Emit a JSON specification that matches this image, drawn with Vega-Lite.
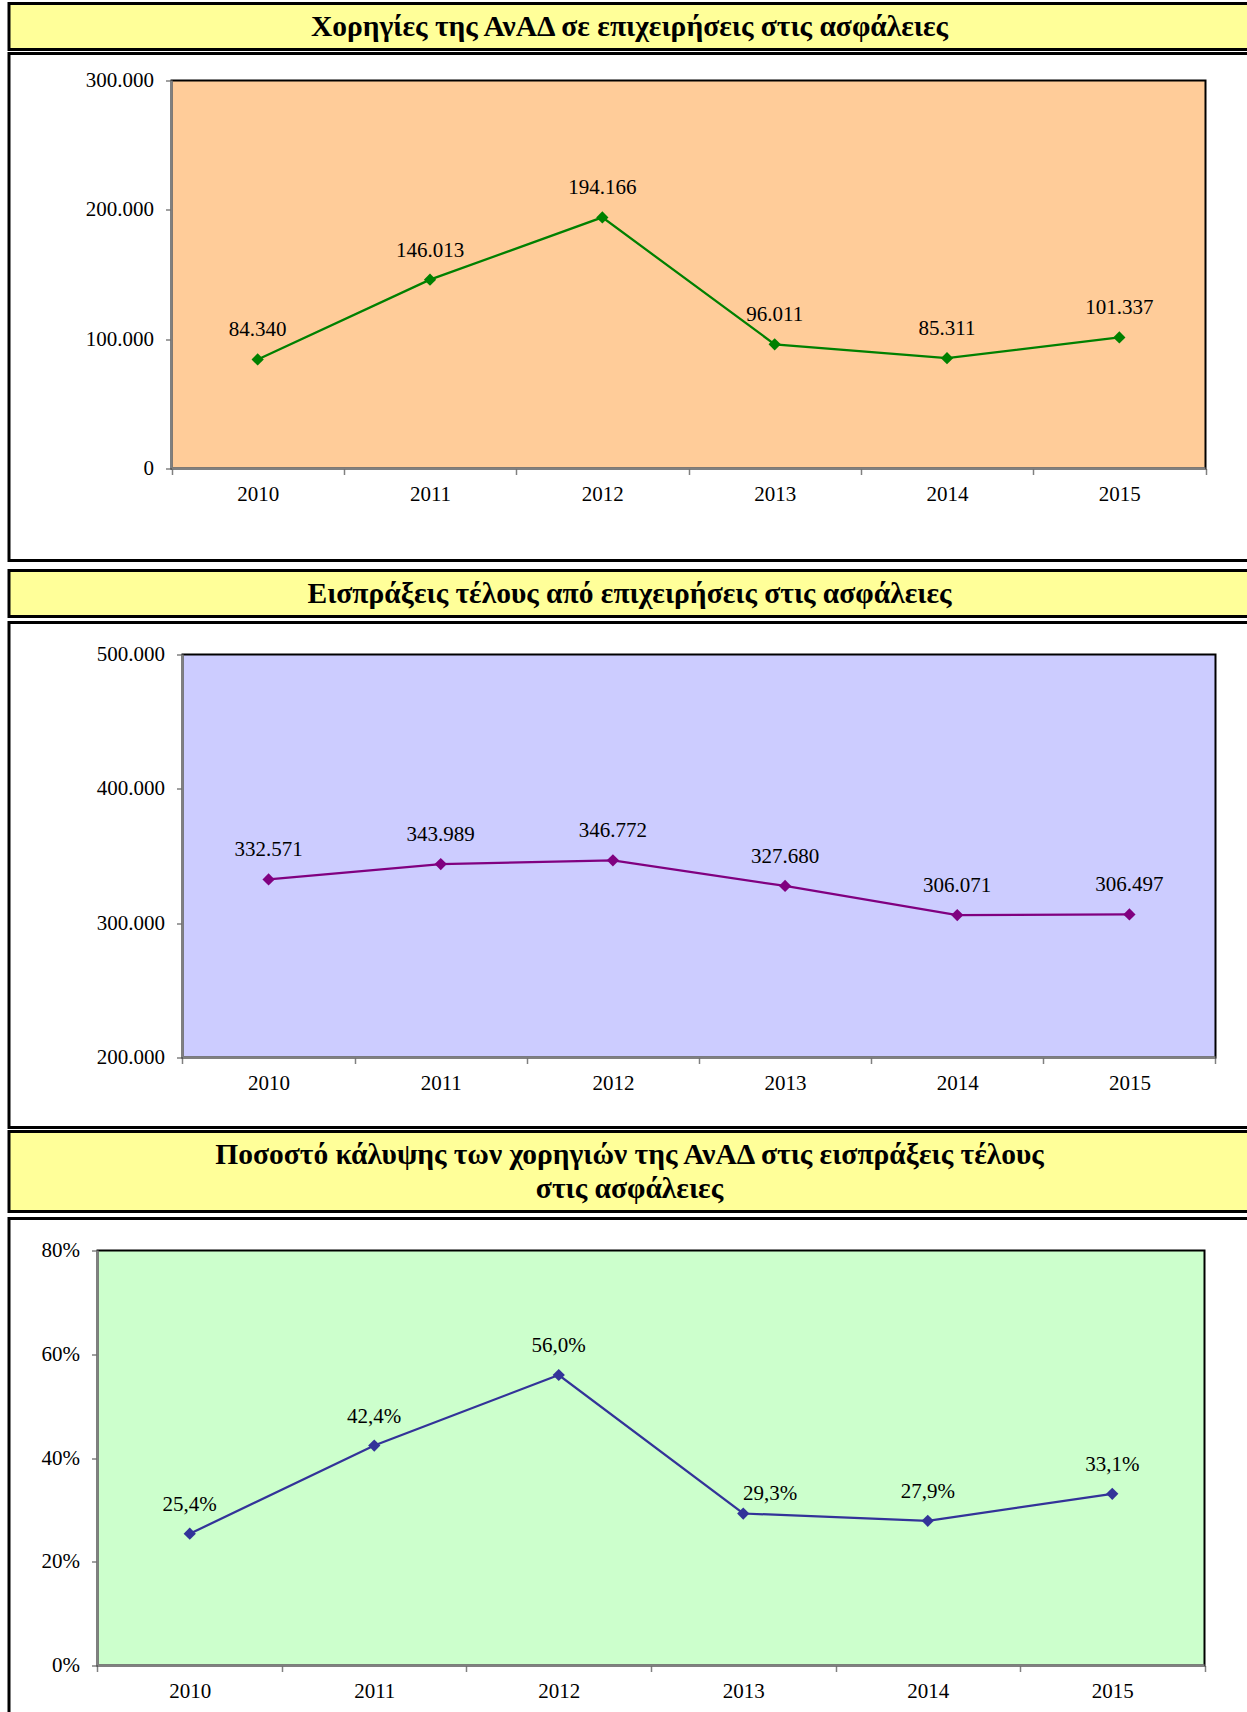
{
  "$schema": "https://vega.github.io/schema/vega-lite/v6.json",
  "background": "white",
  "padding": {"left": 7, "top": 1.5, "right": -4, "bottom": -6},
  "config": {
    "locale": {"number": {"decimal": ",", "thousands": ".", "grouping": [3], "currency": ["", " €"]}},
    "font": "Liberation Serif",
    "axis": {"labelFont": "Liberation Serif", "labelFontSize": 21, "labelColor": "black", "domain": false, "grid": false, "tickColor": "#808080", "tickWidth": 1.5, "tickSize": 6},
    "text": {"font": "Liberation Serif", "color": "black"}
  },
  "spacing": 0,
  "vconcat": [
    {
      "spacing": 0,
      "vconcat": [
        {
          "width": 1241, "height": 46,
          "view": {"fill": "#FFFF99", "stroke": "black", "strokeWidth": 3},
          "data": {"values": [{"title": "Χορηγίες της ΑνΑΔ σε επιχειρήσεις στις ασφάλειες"}]},
          "mark": {"type": "text", "fontWeight": "bold", "fontSize": 29.5, "font": "Liberation Serif", "baseline": "middle", "align": "center"},
          "encoding": {"text": {"field": "title"}}
        },
        {
          "width": 1241, "height": 507,
          "view": {"fill": "white", "stroke": "black", "strokeWidth": 3},
          "data": {"values": [
            {"year": 2010, "value": 84340},
            {"year": 2011, "value": 146013},
            {"year": 2012, "value": 194166},
            {"year": 2013, "value": 96011},
            {"year": 2014, "value": 85311},
            {"year": 2015, "value": 101337}
          ]},
          "layer": [
            {
              "data": {"values": [{}]},
              "mark": {"type": "rect", "fill": "#FFCC99", "stroke": "black", "strokeWidth": 2},
              "encoding": {
                "x": {"datum": 2009.5, "type": "quantitative", "scale": {"domain": [2008.55706, 2015.75822], "nice": false, "zero": false},
                  "axis": {"orient": "bottom", "title": null, "values": [2009.5, 2010.5, 2011.5, 2012.5, 2013.5, 2014.5, 2015.5], "offset": -92, "labelExpr": "datum.value > 2015 ? '' : format(datum.value + 0.5, 'd')", "labelOffset": 86.17, "labelAlign": "center", "labelBaseline": "top", "labelPadding": 9, "labelOverlap": false, "labelFlush": false, "labelBound": false}},
                "x2": {"datum": 2015.5},
                "y": {"datum": 0, "type": "quantitative", "scale": {"domain": [-71134, 320876.3], "nice": false, "zero": false},
                  "axis": {"orient": "left", "title": null, "values": [0, 100000, 200000, 300000], "format": ",d", "offset": -162.5, "labelPadding": 12, "labelOverlap": false, "labelFlush": false, "labelBound": false}},
                "y2": {"datum": 300000}
              }
            },
            {
              "data": {"values": [{}]},
              "mark": {"type": "rule", "color": "#808080", "strokeWidth": 2.5},
              "encoding": {
                "x": {"datum": 2009.5, "type": "quantitative", "scale": {"domain": [2008.55706, 2015.75822], "nice": false, "zero": false},
                  "axis": {"orient": "bottom", "title": null, "values": [2009.5, 2010.5, 2011.5, 2012.5, 2013.5, 2014.5, 2015.5], "offset": -92, "labelExpr": "datum.value > 2015 ? '' : format(datum.value + 0.5, 'd')", "labelOffset": 86.17, "labelAlign": "center", "labelBaseline": "top", "labelPadding": 9, "labelOverlap": false, "labelFlush": false, "labelBound": false}},
                "y": {"datum": 0, "type": "quantitative", "scale": {"domain": [-71134, 320876.3], "nice": false, "zero": false},
                  "axis": {"orient": "left", "title": null, "values": [0, 100000, 200000, 300000], "format": ",d", "offset": -162.5, "labelPadding": 12, "labelOverlap": false, "labelFlush": false, "labelBound": false}},
                "y2": {"datum": 300000}
              }
            },
            {
              "data": {"values": [{}]},
              "mark": {"type": "rule", "color": "#808080", "strokeWidth": 2.5},
              "encoding": {
                "x": {"datum": 2009.5, "type": "quantitative", "scale": {"domain": [2008.55706, 2015.75822], "nice": false, "zero": false},
                  "axis": {"orient": "bottom", "title": null, "values": [2009.5, 2010.5, 2011.5, 2012.5, 2013.5, 2014.5, 2015.5], "offset": -92, "labelExpr": "datum.value > 2015 ? '' : format(datum.value + 0.5, 'd')", "labelOffset": 86.17, "labelAlign": "center", "labelBaseline": "top", "labelPadding": 9, "labelOverlap": false, "labelFlush": false, "labelBound": false}},
                "x2": {"datum": 2015.5},
                "y": {"datum": 0, "type": "quantitative", "scale": {"domain": [-71134, 320876.3], "nice": false, "zero": false},
                  "axis": {"orient": "left", "title": null, "values": [0, 100000, 200000, 300000], "format": ",d", "offset": -162.5, "labelPadding": 12, "labelOverlap": false, "labelFlush": false, "labelBound": false}}
              }
            },
            {
              "mark": {"type": "line", "color": "#008000", "strokeWidth": 2.25},
              "encoding": {
                "x": {"field": "year", "type": "quantitative", "scale": {"domain": [2008.55706, 2015.75822], "nice": false, "zero": false},
                  "axis": {"orient": "bottom", "title": null, "values": [2009.5, 2010.5, 2011.5, 2012.5, 2013.5, 2014.5, 2015.5], "offset": -92, "labelExpr": "datum.value > 2015 ? '' : format(datum.value + 0.5, 'd')", "labelOffset": 86.17, "labelAlign": "center", "labelBaseline": "top", "labelPadding": 9, "labelOverlap": false, "labelFlush": false, "labelBound": false}},
                "y": {"field": "value", "type": "quantitative", "scale": {"domain": [-71134, 320876.3], "nice": false, "zero": false},
                  "axis": {"orient": "left", "title": null, "values": [0, 100000, 200000, 300000], "format": ",d", "offset": -162.5, "labelPadding": 12, "labelOverlap": false, "labelFlush": false, "labelBound": false}}
              }
            },
            {
              "mark": {"type": "point", "shape": "diamond", "filled": true, "size": 150, "color": "#008000", "opacity": 1},
              "encoding": {
                "x": {"field": "year", "type": "quantitative", "scale": {"domain": [2008.55706, 2015.75822], "nice": false, "zero": false},
                  "axis": {"orient": "bottom", "title": null, "values": [2009.5, 2010.5, 2011.5, 2012.5, 2013.5, 2014.5, 2015.5], "offset": -92, "labelExpr": "datum.value > 2015 ? '' : format(datum.value + 0.5, 'd')", "labelOffset": 86.17, "labelAlign": "center", "labelBaseline": "top", "labelPadding": 9, "labelOverlap": false, "labelFlush": false, "labelBound": false}},
                "y": {"field": "value", "type": "quantitative", "scale": {"domain": [-71134, 320876.3], "nice": false, "zero": false},
                  "axis": {"orient": "left", "title": null, "values": [0, 100000, 200000, 300000], "format": ",d", "offset": -162.5, "labelPadding": 12, "labelOverlap": false, "labelFlush": false, "labelBound": false}}
              }
            },
            {
              "mark": {"type": "text", "fontSize": 21, "baseline": "alphabetic", "align": "center", "dy": -23},
              "encoding": {
                "x": {"field": "year", "type": "quantitative", "scale": {"domain": [2008.55706, 2015.75822], "nice": false, "zero": false},
                  "axis": {"orient": "bottom", "title": null, "values": [2009.5, 2010.5, 2011.5, 2012.5, 2013.5, 2014.5, 2015.5], "offset": -92, "labelExpr": "datum.value > 2015 ? '' : format(datum.value + 0.5, 'd')", "labelOffset": 86.17, "labelAlign": "center", "labelBaseline": "top", "labelPadding": 9, "labelOverlap": false, "labelFlush": false, "labelBound": false}},
                "y": {"field": "value", "type": "quantitative", "scale": {"domain": [-71134, 320876.3], "nice": false, "zero": false},
                  "axis": {"orient": "left", "title": null, "values": [0, 100000, 200000, 300000], "format": ",d", "offset": -162.5, "labelPadding": 12, "labelOverlap": false, "labelFlush": false, "labelBound": false}},
                "text": {"field": "value", "type": "quantitative", "format": ",d"}
              }
            }
          ]
        }
      ]
    },
    {
      "title": {"text": " ", "fontSize": 1, "offset": 4.7},
      "spacing": 2,
      "vconcat": [
        {
          "width": 1241, "height": 46,
          "view": {"fill": "#FFFF99", "stroke": "black", "strokeWidth": 3},
          "data": {"values": [{"title": "Εισπράξεις τέλους από επιχειρήσεις στις ασφάλειες"}]},
          "mark": {"type": "text", "fontWeight": "bold", "fontSize": 29.5, "font": "Liberation Serif", "baseline": "middle", "align": "center"},
          "encoding": {"text": {"field": "title"}}
        },
        {
          "width": 1241, "height": 505,
          "view": {"fill": "white", "stroke": "black", "strokeWidth": 3},
          "data": {"values": [
            {"year": 2010, "value": 332571},
            {"year": 2011, "value": 343989},
            {"year": 2012, "value": 346772},
            {"year": 2013, "value": 327680},
            {"year": 2014, "value": 306071},
            {"year": 2015, "value": 306497}
          ]},
          "layer": [
            {
              "data": {"values": [{}]},
              "mark": {"type": "rect", "fill": "#CCCCFF", "stroke": "black", "strokeWidth": 2},
              "encoding": {
                "x": {"datum": 2009.5, "type": "quantitative", "scale": {"domain": [2008.49226, 2015.70039], "nice": false, "zero": false},
                  "axis": {"orient": "bottom", "title": null, "values": [2009.5, 2010.5, 2011.5, 2012.5, 2013.5, 2014.5, 2015.5], "offset": -70, "labelExpr": "datum.value > 2015 ? '' : format(datum.value + 0.5, 'd')", "labelOffset": 86.08, "labelAlign": "center", "labelBaseline": "top", "labelPadding": 9, "labelOverlap": false, "labelFlush": false, "labelBound": false}},
                "x2": {"datum": 2015.5},
                "y": {"datum": 200000, "type": "quantitative", "scale": {"domain": [147890.8, 523821.3], "nice": false, "zero": false},
                  "axis": {"orient": "left", "title": null, "values": [200000, 300000, 400000, 500000], "format": ",d", "offset": -173.5, "labelPadding": 12, "labelOverlap": false, "labelFlush": false, "labelBound": false}},
                "y2": {"datum": 500000}
              }
            },
            {
              "data": {"values": [{}]},
              "mark": {"type": "rule", "color": "#808080", "strokeWidth": 2.5},
              "encoding": {
                "x": {"datum": 2009.5, "type": "quantitative", "scale": {"domain": [2008.49226, 2015.70039], "nice": false, "zero": false},
                  "axis": {"orient": "bottom", "title": null, "values": [2009.5, 2010.5, 2011.5, 2012.5, 2013.5, 2014.5, 2015.5], "offset": -70, "labelExpr": "datum.value > 2015 ? '' : format(datum.value + 0.5, 'd')", "labelOffset": 86.08, "labelAlign": "center", "labelBaseline": "top", "labelPadding": 9, "labelOverlap": false, "labelFlush": false, "labelBound": false}},
                "y": {"datum": 200000, "type": "quantitative", "scale": {"domain": [147890.8, 523821.3], "nice": false, "zero": false},
                  "axis": {"orient": "left", "title": null, "values": [200000, 300000, 400000, 500000], "format": ",d", "offset": -173.5, "labelPadding": 12, "labelOverlap": false, "labelFlush": false, "labelBound": false}},
                "y2": {"datum": 500000}
              }
            },
            {
              "data": {"values": [{}]},
              "mark": {"type": "rule", "color": "#808080", "strokeWidth": 2.5},
              "encoding": {
                "x": {"datum": 2009.5, "type": "quantitative", "scale": {"domain": [2008.49226, 2015.70039], "nice": false, "zero": false},
                  "axis": {"orient": "bottom", "title": null, "values": [2009.5, 2010.5, 2011.5, 2012.5, 2013.5, 2014.5, 2015.5], "offset": -70, "labelExpr": "datum.value > 2015 ? '' : format(datum.value + 0.5, 'd')", "labelOffset": 86.08, "labelAlign": "center", "labelBaseline": "top", "labelPadding": 9, "labelOverlap": false, "labelFlush": false, "labelBound": false}},
                "x2": {"datum": 2015.5},
                "y": {"datum": 200000, "type": "quantitative", "scale": {"domain": [147890.8, 523821.3], "nice": false, "zero": false},
                  "axis": {"orient": "left", "title": null, "values": [200000, 300000, 400000, 500000], "format": ",d", "offset": -173.5, "labelPadding": 12, "labelOverlap": false, "labelFlush": false, "labelBound": false}}
              }
            },
            {
              "mark": {"type": "line", "color": "#800080", "strokeWidth": 2.25},
              "encoding": {
                "x": {"field": "year", "type": "quantitative", "scale": {"domain": [2008.49226, 2015.70039], "nice": false, "zero": false},
                  "axis": {"orient": "bottom", "title": null, "values": [2009.5, 2010.5, 2011.5, 2012.5, 2013.5, 2014.5, 2015.5], "offset": -70, "labelExpr": "datum.value > 2015 ? '' : format(datum.value + 0.5, 'd')", "labelOffset": 86.08, "labelAlign": "center", "labelBaseline": "top", "labelPadding": 9, "labelOverlap": false, "labelFlush": false, "labelBound": false}},
                "y": {"field": "value", "type": "quantitative", "scale": {"domain": [147890.8, 523821.3], "nice": false, "zero": false},
                  "axis": {"orient": "left", "title": null, "values": [200000, 300000, 400000, 500000], "format": ",d", "offset": -173.5, "labelPadding": 12, "labelOverlap": false, "labelFlush": false, "labelBound": false}}
              }
            },
            {
              "mark": {"type": "point", "shape": "diamond", "filled": true, "size": 150, "color": "#800080", "opacity": 1},
              "encoding": {
                "x": {"field": "year", "type": "quantitative", "scale": {"domain": [2008.49226, 2015.70039], "nice": false, "zero": false},
                  "axis": {"orient": "bottom", "title": null, "values": [2009.5, 2010.5, 2011.5, 2012.5, 2013.5, 2014.5, 2015.5], "offset": -70, "labelExpr": "datum.value > 2015 ? '' : format(datum.value + 0.5, 'd')", "labelOffset": 86.08, "labelAlign": "center", "labelBaseline": "top", "labelPadding": 9, "labelOverlap": false, "labelFlush": false, "labelBound": false}},
                "y": {"field": "value", "type": "quantitative", "scale": {"domain": [147890.8, 523821.3], "nice": false, "zero": false},
                  "axis": {"orient": "left", "title": null, "values": [200000, 300000, 400000, 500000], "format": ",d", "offset": -173.5, "labelPadding": 12, "labelOverlap": false, "labelFlush": false, "labelBound": false}}
              }
            },
            {
              "mark": {"type": "text", "fontSize": 21, "baseline": "alphabetic", "align": "center", "dy": -23},
              "encoding": {
                "x": {"field": "year", "type": "quantitative", "scale": {"domain": [2008.49226, 2015.70039], "nice": false, "zero": false},
                  "axis": {"orient": "bottom", "title": null, "values": [2009.5, 2010.5, 2011.5, 2012.5, 2013.5, 2014.5, 2015.5], "offset": -70, "labelExpr": "datum.value > 2015 ? '' : format(datum.value + 0.5, 'd')", "labelOffset": 86.08, "labelAlign": "center", "labelBaseline": "top", "labelPadding": 9, "labelOverlap": false, "labelFlush": false, "labelBound": false}},
                "y": {"field": "value", "type": "quantitative", "scale": {"domain": [147890.8, 523821.3], "nice": false, "zero": false},
                  "axis": {"orient": "left", "title": null, "values": [200000, 300000, 400000, 500000], "format": ",d", "offset": -173.5, "labelPadding": 12, "labelOverlap": false, "labelFlush": false, "labelBound": false}},
                "text": {"field": "value", "type": "quantitative", "format": ",d"}
              }
            }
          ]
        }
      ]
    },
    {
      "spacing": 3,
      "vconcat": [
        {
          "width": 1241, "height": 80,
          "view": {"fill": "#FFFF99", "stroke": "black", "strokeWidth": 3},
          "data": {"values": [{"title": "Ποσοστό κάλυψης των χορηγιών της ΑνΑΔ στις εισπράξεις τέλους\nστις ασφάλειες"}]},
          "mark": {"type": "text", "fontWeight": "bold", "fontSize": 29.5, "font": "Liberation Serif", "baseline": "middle", "align": "center", "lineBreak": "\n", "lineHeight": 34, "dy": -17},
          "encoding": {"text": {"field": "title"}}
        },
        {
          "width": 1241, "height": 499,
          "view": {"fill": "white", "stroke": "black", "strokeWidth": 3},
          "data": {"values": [
            {"year": 2010, "value": 0.254},
            {"year": 2011, "value": 0.424},
            {"year": 2012, "value": 0.560},
            {"year": 2013, "value": 0.293},
            {"year": 2014, "value": 0.279},
            {"year": 2015, "value": 0.331}
          ]},
          "layer": [
            {
              "data": {"values": [{}]},
              "mark": {"type": "rect", "fill": "#CCFFCC", "stroke": "black", "strokeWidth": 2},
              "encoding": {
                "x": {"datum": 2009.5, "type": "quantitative", "scale": {"domain": [2009.02033, 2015.74661], "nice": false, "zero": false},
                  "axis": {"orient": "bottom", "title": null, "values": [2009.5, 2010.5, 2011.5, 2012.5, 2013.5, 2014.5, 2015.5], "offset": -52, "labelExpr": "datum.value > 2015 ? '' : format(datum.value + 0.5, 'd')", "labelOffset": 92.25, "labelAlign": "center", "labelBaseline": "top", "labelPadding": 9, "labelOverlap": false, "labelFlush": false, "labelBound": false}},
                "x2": {"datum": 2015.5},
                "y": {"datum": 0, "type": "quantitative", "scale": {"domain": [-0.100241, 0.861687], "nice": false, "zero": false},
                  "axis": {"orient": "left", "title": null, "values": [0, 0.2, 0.4, 0.6, 0.8], "format": ".0%", "offset": -88.5, "labelPadding": 12, "labelOverlap": false, "labelFlush": false, "labelBound": false}},
                "y2": {"datum": 0.8}
              }
            },
            {
              "data": {"values": [{}]},
              "mark": {"type": "rule", "color": "#808080", "strokeWidth": 2.5},
              "encoding": {
                "x": {"datum": 2009.5, "type": "quantitative", "scale": {"domain": [2009.02033, 2015.74661], "nice": false, "zero": false},
                  "axis": {"orient": "bottom", "title": null, "values": [2009.5, 2010.5, 2011.5, 2012.5, 2013.5, 2014.5, 2015.5], "offset": -52, "labelExpr": "datum.value > 2015 ? '' : format(datum.value + 0.5, 'd')", "labelOffset": 92.25, "labelAlign": "center", "labelBaseline": "top", "labelPadding": 9, "labelOverlap": false, "labelFlush": false, "labelBound": false}},
                "y": {"datum": 0, "type": "quantitative", "scale": {"domain": [-0.100241, 0.861687], "nice": false, "zero": false},
                  "axis": {"orient": "left", "title": null, "values": [0, 0.2, 0.4, 0.6, 0.8], "format": ".0%", "offset": -88.5, "labelPadding": 12, "labelOverlap": false, "labelFlush": false, "labelBound": false}},
                "y2": {"datum": 0.8}
              }
            },
            {
              "data": {"values": [{}]},
              "mark": {"type": "rule", "color": "#808080", "strokeWidth": 2.5},
              "encoding": {
                "x": {"datum": 2009.5, "type": "quantitative", "scale": {"domain": [2009.02033, 2015.74661], "nice": false, "zero": false},
                  "axis": {"orient": "bottom", "title": null, "values": [2009.5, 2010.5, 2011.5, 2012.5, 2013.5, 2014.5, 2015.5], "offset": -52, "labelExpr": "datum.value > 2015 ? '' : format(datum.value + 0.5, 'd')", "labelOffset": 92.25, "labelAlign": "center", "labelBaseline": "top", "labelPadding": 9, "labelOverlap": false, "labelFlush": false, "labelBound": false}},
                "x2": {"datum": 2015.5},
                "y": {"datum": 0, "type": "quantitative", "scale": {"domain": [-0.100241, 0.861687], "nice": false, "zero": false},
                  "axis": {"orient": "left", "title": null, "values": [0, 0.2, 0.4, 0.6, 0.8], "format": ".0%", "offset": -88.5, "labelPadding": 12, "labelOverlap": false, "labelFlush": false, "labelBound": false}}
              }
            },
            {
              "mark": {"type": "line", "color": "#333399", "strokeWidth": 2.25},
              "encoding": {
                "x": {"field": "year", "type": "quantitative", "scale": {"domain": [2009.02033, 2015.74661], "nice": false, "zero": false},
                  "axis": {"orient": "bottom", "title": null, "values": [2009.5, 2010.5, 2011.5, 2012.5, 2013.5, 2014.5, 2015.5], "offset": -52, "labelExpr": "datum.value > 2015 ? '' : format(datum.value + 0.5, 'd')", "labelOffset": 92.25, "labelAlign": "center", "labelBaseline": "top", "labelPadding": 9, "labelOverlap": false, "labelFlush": false, "labelBound": false}},
                "y": {"field": "value", "type": "quantitative", "scale": {"domain": [-0.100241, 0.861687], "nice": false, "zero": false},
                  "axis": {"orient": "left", "title": null, "values": [0, 0.2, 0.4, 0.6, 0.8], "format": ".0%", "offset": -88.5, "labelPadding": 12, "labelOverlap": false, "labelFlush": false, "labelBound": false}}
              }
            },
            {
              "mark": {"type": "point", "shape": "diamond", "filled": true, "size": 150, "color": "#333399", "opacity": 1},
              "encoding": {
                "x": {"field": "year", "type": "quantitative", "scale": {"domain": [2009.02033, 2015.74661], "nice": false, "zero": false},
                  "axis": {"orient": "bottom", "title": null, "values": [2009.5, 2010.5, 2011.5, 2012.5, 2013.5, 2014.5, 2015.5], "offset": -52, "labelExpr": "datum.value > 2015 ? '' : format(datum.value + 0.5, 'd')", "labelOffset": 92.25, "labelAlign": "center", "labelBaseline": "top", "labelPadding": 9, "labelOverlap": false, "labelFlush": false, "labelBound": false}},
                "y": {"field": "value", "type": "quantitative", "scale": {"domain": [-0.100241, 0.861687], "nice": false, "zero": false},
                  "axis": {"orient": "left", "title": null, "values": [0, 0.2, 0.4, 0.6, 0.8], "format": ".0%", "offset": -88.5, "labelPadding": 12, "labelOverlap": false, "labelFlush": false, "labelBound": false}}
              }
            },
            {
              "transform": [{"filter": "datum.year != 2013"}],
              "mark": {"type": "text", "fontSize": 21, "baseline": "alphabetic", "align": "center", "dy": -23},
              "encoding": {
                "x": {"field": "year", "type": "quantitative", "scale": {"domain": [2009.02033, 2015.74661], "nice": false, "zero": false},
                  "axis": {"orient": "bottom", "title": null, "values": [2009.5, 2010.5, 2011.5, 2012.5, 2013.5, 2014.5, 2015.5], "offset": -52, "labelExpr": "datum.value > 2015 ? '' : format(datum.value + 0.5, 'd')", "labelOffset": 92.25, "labelAlign": "center", "labelBaseline": "top", "labelPadding": 9, "labelOverlap": false, "labelFlush": false, "labelBound": false}},
                "y": {"field": "value", "type": "quantitative", "scale": {"domain": [-0.100241, 0.861687], "nice": false, "zero": false},
                  "axis": {"orient": "left", "title": null, "values": [0, 0.2, 0.4, 0.6, 0.8], "format": ".0%", "offset": -88.5, "labelPadding": 12, "labelOverlap": false, "labelFlush": false, "labelBound": false}},
                "text": {"field": "value", "type": "quantitative", "format": ".1%"}
              }
            },
            {
              "transform": [{"filter": "datum.year == 2013"}],
              "mark": {"type": "text", "fontSize": 21, "baseline": "alphabetic", "align": "center", "dx": 27, "dy": -14},
              "encoding": {
                "x": {"field": "year", "type": "quantitative", "scale": {"domain": [2009.02033, 2015.74661], "nice": false, "zero": false},
                  "axis": {"orient": "bottom", "title": null, "values": [2009.5, 2010.5, 2011.5, 2012.5, 2013.5, 2014.5, 2015.5], "offset": -52, "labelExpr": "datum.value > 2015 ? '' : format(datum.value + 0.5, 'd')", "labelOffset": 92.25, "labelAlign": "center", "labelBaseline": "top", "labelPadding": 9, "labelOverlap": false, "labelFlush": false, "labelBound": false}},
                "y": {"field": "value", "type": "quantitative", "scale": {"domain": [-0.100241, 0.861687], "nice": false, "zero": false},
                  "axis": {"orient": "left", "title": null, "values": [0, 0.2, 0.4, 0.6, 0.8], "format": ".0%", "offset": -88.5, "labelPadding": 12, "labelOverlap": false, "labelFlush": false, "labelBound": false}},
                "text": {"field": "value", "type": "quantitative", "format": ".1%"}
              }
            }
          ]
        }
      ]
    }
  ]
}
